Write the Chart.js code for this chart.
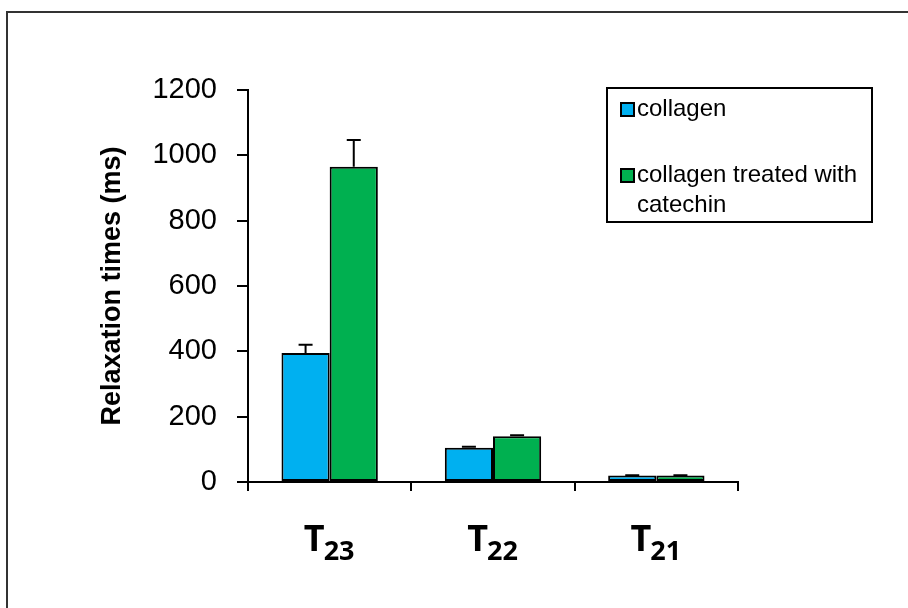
<!DOCTYPE html>
<html>
<head>
<meta charset="utf-8">
<script src="https://cdn.jsdelivr.net/npm/chart.js@4"></script>
<style>
    html, body { margin: 0; padding: 0; background: #fff; overflow: hidden; }
    #wrap { position: relative; width: 908px; height: 608px; }
    #frame { position: absolute; left: 6px; top: 11px; width: 940px; height: 640px; border: 2px solid #333; }
    #chart { position: absolute; left: 0; top: 0; }
    #legend { position: absolute; left: 606px; top: 87px; width: 263px; height: 132px; border: 2px solid #000;
        font-family: "Liberation Sans", Arial, sans-serif; font-size: 24px; color: #000; }
    .item { position: absolute; left: 12px; }
    .sw { position: absolute; left: 0; width: 11px; height: 11px; border: 2px solid #000; }
    .txt { position: absolute; left: 17px; line-height: 30px; white-space: nowrap; }
</style>
</head>
<body>
<div id="wrap">
    <div id="frame"></div>
    <canvas id="chart" width="908" height="608"></canvas>
    <div id="legend"></div>
</div>
<script>
// categories are drawn as T with a subscript
const categoryBase = ['T', 'T', 'T'];
const categorySub = ['23', '22', '21'];
const categories = ['T23', 'T22', 'T21'];

const collagen = [395, 105, 20];
const collagenErr = [25, 3, 1];
const catechin = [965, 140, 20];
const catechinErr = [82, 3, 1];

const seriesNames = ['collagen', 'collagen treated with\ncatechin'];
const seriesColors = ['#00B0F0', '#00B050'];

const yTicks = [0, 200, 400, 600, 800, 1000, 1200];

const errorBars = {
    id: 'errorBars',
    afterDatasetsDraw(chart) {
        const ctx = chart.ctx;
        const y = chart.scales.y;
        ctx.save();
        ctx.strokeStyle = '#000';
        ctx.lineWidth = 2;
        chart.data.datasets.forEach((ds, di) => {
            const meta = chart.getDatasetMeta(di);
            meta.data.forEach((bar, i) => {
                const top = y.getPixelForValue(ds.data[i] + ds.errors[i]);
                const base = y.getPixelForValue(ds.data[i]);
                ctx.beginPath();
                ctx.moveTo(bar.x, base);
                ctx.lineTo(bar.x, top);
                ctx.moveTo(bar.x - 7, top);
                ctx.lineTo(bar.x + 7, top);
                ctx.stroke();
            });
        });
        ctx.restore();
    }
};

const subLabels = {
    id: 'subLabels',
    afterDraw(chart) {
        const ctx = chart.ctx;
        const x = chart.scales.x;
        ctx.save();
        ctx.fillStyle = '#000';
        ctx.textBaseline = 'alphabetic';
        categories.forEach((c, i) => {
            const bigFont = '700 36px "Open Sans"';
            const smallFont = '700 27px "Open Sans"';
            ctx.font = bigFont;
            const wBig = ctx.measureText(categoryBase[i]).width;
            ctx.font = smallFont;
            const wSmall = ctx.measureText(categorySub[i]).width;
            const cx = x.getPixelForValue(i);
            const start = cx - (wBig + wSmall) / 2;
            ctx.font = bigFont;
            ctx.fillText(categoryBase[i], start, 551);
            ctx.font = smallFont;
            ctx.fillText(categorySub[i], start + wBig - 1, 560);
        });
        ctx.restore();
    }
};

const chart = new Chart(document.getElementById('chart').getContext('2d'), {
    type: 'bar',
    data: {
        labels: categories,
        datasets: [{
            label: seriesNames[0],
            data: collagen,
            errors: collagenErr,
            backgroundColor: seriesColors[0],
            borderColor: '#000',
            borderWidth: 2,
            borderSkipped: false
        }, {
            label: seriesNames[1],
            data: catechin,
            errors: catechinErr,
            backgroundColor: seriesColors[1],
            borderColor: '#000',
            borderWidth: 2,
            borderSkipped: false
        }]
    },
    options: {
        responsive: false,
        animation: false,
        layout: {
            padding: { left: 92, right: 170, top: 90, bottom: 0 }
        },
        datasets: {
            bar: { categoryPercentage: 0.59, barPercentage: 1 }
        },
        scales: {
            x: {
                afterFit(scale) { scale.height = 126; },
                border: { color: '#000', width: 2 },
                grid: { offset: true, drawOnChartArea: false, color: '#000', lineWidth: 2, tickLength: 9 },
                ticks: { callback: () => '' }
            },
            y: {
                min: 0,
                max: 1200,
                afterFit(scale) { scale.width = 156; },
                afterBuildTicks(scale) { scale.ticks = yTicks.map(v => ({ value: v })); },
                border: { color: '#000', width: 2 },
                grid: { drawOnChartArea: false, color: '#000', lineWidth: 2, tickLength: 11 },
                ticks: {
                    padding: 20,
                    color: '#000',
                    font: { family: 'Liberation Sans', size: 29 },
                    callback: v => String(v)
                },
                title: {
                    display: true,
                    text: 'Relaxation times (ms)',
                    color: '#000',
                    padding: { top: 4, bottom: 0 },
                    font: { family: 'Liberation Sans', size: 27, weight: 'bold' }
                }
            }
        },
        plugins: {
            legend: { display: false },
            tooltip: { enabled: false }
        }
    },
    plugins: [errorBars, subLabels]
});

// html legend from the datasets
const legend = document.getElementById('legend');
const itemTops = [4, 70];
chart.data.datasets.forEach((ds, i) => {
    const item = document.createElement('div');
    item.className = 'item';
    item.style.top = itemTops[i] + 'px';
    const sw = document.createElement('div');
    sw.className = 'sw';
    sw.style.top = '9px';
    sw.style.background = ds.backgroundColor;
    const txt = document.createElement('div');
    txt.className = 'txt';
    txt.innerHTML = ds.label.split('\n').join('<br>');
    item.appendChild(sw);
    item.appendChild(txt);
    legend.appendChild(item);
});

// redraw once fonts are ready so the canvas labels use them
document.fonts.ready.then(() => chart.draw());
</script>
</body>
</html>
